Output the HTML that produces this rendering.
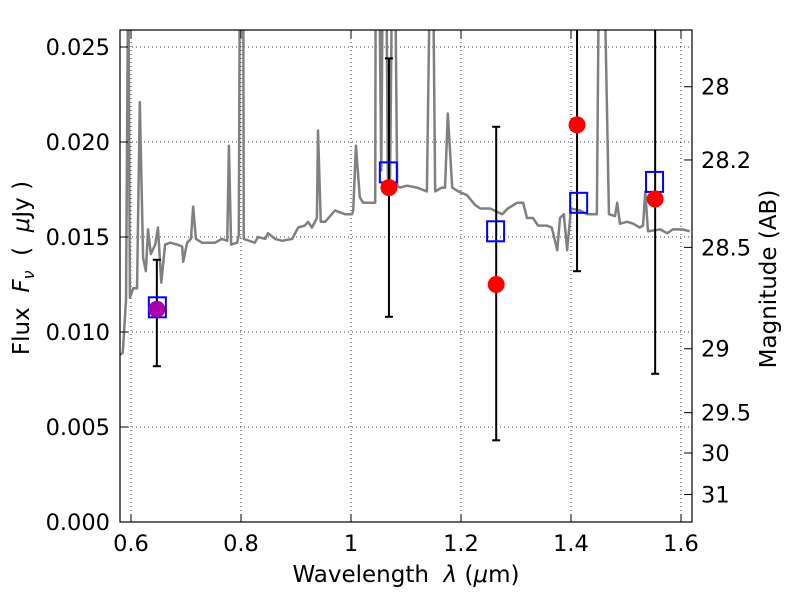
<!DOCTYPE html>
<html><head><meta charset="utf-8"><style>
html,body{margin:0;padding:0;background:#fff;width:800px;height:600px;overflow:hidden}
svg{font-family:"DejaVu Sans","Liberation Sans",sans-serif}
</style></head><body>
<svg id="chart" width="800" height="600" xmlns="http://www.w3.org/2000/svg">
<defs><clipPath id="clip"><rect x="120" y="30" width="572" height="492"/></clipPath></defs>
<rect x="0" y="0" width="800" height="600" fill="#fff"/>
<g id="grid"></g>
<g id="plot" clip-path="url(#clip)"></g>
<rect x="120" y="30" width="572" height="492" fill="none" stroke="#000" stroke-width="1.2"/>
<g id="axes"></g>
<text x="406" y="582" font-size="23" text-anchor="middle">Wavelength&#160;&#160;<tspan font-style="italic">λ</tspan> (<tspan font-style="italic">μ</tspan>m)</text>
<text transform="translate(29,268) rotate(-90)" font-size="23" text-anchor="middle">Flux&#160;&#160;<tspan font-style="italic">F</tspan><tspan font-size="16" dy="5" font-style="italic">ν</tspan><tspan dy="-5">&#160;&#160;(&#160;&#160;<tspan font-style="italic">μ</tspan>Jy )</tspan></text>
<text transform="translate(776,279) rotate(-90)" font-size="23" text-anchor="middle">Magnitude (AB)</text>
</svg>
<script>
const specLambda=[0.580,0.585,0.591,0.595,0.598,0.604,0.611,0.616,0.622,0.627,0.631,0.636,0.644,0.649,0.655,0.662,0.671,0.684,0.693,0.695,0.702,0.709,0.713,0.718,0.729,0.753,0.765,0.775,0.778,0.782,0.793,0.796,0.798,0.804,0.805,0.825,0.831,0.844,0.849,0.862,0.875,0.893,0.904,0.916,0.922,0.929,0.938,0.940,0.945,0.953,0.971,0.989,1.002,1.004,1.009,1.016,1.022,1.044,1.045,1.051,1.055,1.058,1.064,1.067,1.071,1.075,1.080,1.084,1.089,1.102,1.120,1.129,1.138,1.144,1.149,1.153,1.165,1.171,1.176,1.184,1.195,1.211,1.225,1.235,1.253,1.275,1.285,1.302,1.313,1.320,1.331,1.340,1.356,1.365,1.375,1.380,1.387,1.393,1.400,1.416,1.429,1.447,1.451,1.460,1.469,1.480,1.484,1.489,1.502,1.513,1.525,1.531,1.535,1.540,1.562,1.575,1.585,1.602,1.616];
const specFlux=[0.0088,0.0089,0.0117,0.0300,0.0118,0.0123,0.0123,0.0221,0.0139,0.0132,0.0154,0.0141,0.0146,0.0155,0.0126,0.0146,0.0147,0.0146,0.0145,0.0137,0.0147,0.0149,0.0166,0.0149,0.0147,0.0147,0.0149,0.0148,0.0198,0.0146,0.0147,0.0151,0.0300,0.0300,0.0149,0.0147,0.0150,0.0149,0.0152,0.0149,0.0148,0.0149,0.0155,0.0156,0.0158,0.0155,0.0160,0.0206,0.0158,0.0158,0.0164,0.0162,0.0162,0.0164,0.0198,0.0171,0.0168,0.0168,0.0300,0.0300,0.0185,0.0300,0.0300,0.0181,0.0180,0.0300,0.0300,0.0177,0.0176,0.0177,0.0176,0.0175,0.0174,0.0300,0.0300,0.0174,0.0176,0.0176,0.0215,0.0176,0.0174,0.0172,0.0167,0.0165,0.0165,0.0162,0.0165,0.0168,0.0168,0.0160,0.0160,0.0156,0.0156,0.0155,0.0143,0.0160,0.0162,0.0143,0.0165,0.0164,0.0162,0.0162,0.0300,0.0300,0.0162,0.0161,0.0168,0.0157,0.0158,0.0157,0.0155,0.0156,0.0174,0.0153,0.0154,0.0152,0.0154,0.0154,0.0153];
const obsLambda=[1.069,1.264,1.411,1.553];
const obsFlux=[0.0176,0.0125,0.0209,0.0170];
const obsLow=[0.0108,0.0043,0.0132,0.0078];
const obsHigh=[0.0244,0.0208,0.0300,0.0300];
const firstLambda=[0.647];const firstFlux=[0.0112];const firstLow=[0.0082];const firstHigh=[0.0138];
const modelLambda=[0.647,1.067,1.262,1.413,1.551];
const modelFlux=[0.0113,0.0184,0.0153,0.0168,0.0179];
const xTicks=[0.6,0.8,1.0,1.2,1.4,1.6];
const xTickLabels=["0.6","0.8","1","1.2","1.4","1.6"];
const yTicks=[0,0.005,0.010,0.015,0.020,0.025];
const yTickLabels=["0.000","0.005","0.010","0.015","0.020","0.025"];
const magTicks=[28,28.2,28.5,29,29.5,30,31];
const magTickLabels=["28","28.2","28.5","29","29.5","30","31"];

const NS="http://www.w3.org/2000/svg";
const X=l=>131+(l-0.6)*550;
const Y=f=>522-f*19000;
function mk(tag,attrs,parent){const e=document.createElementNS(NS,tag);for(const k in attrs)e.setAttribute(k,attrs[k]);parent.appendChild(e);return e;}
const grid=document.getElementById('grid'),plot=document.getElementById('plot'),axes=document.getElementById('axes');

xTicks.forEach((t,i)=>{const x=X(t);
 const g=mk('line',{x1:x,x2:x,y1:30,y2:522,stroke:'#000','stroke-width':0.8,'stroke-dasharray':'1,3'},grid);
 
 mk('line',{x1:x,x2:x,y1:522,y2:514,stroke:'#000'},axes);mk('line',{x1:x,x2:x,y1:30,y2:38,stroke:'#000'},axes);
 const tx=mk('text',{x:x,y:551,'font-size':22.5,'text-anchor':'middle'},axes);tx.textContent=xTickLabels[i];
 });
yTicks.forEach((t,i)=>{const y=Y(t);
 const g=mk('line',{x1:120,x2:692,y1:y,y2:y,stroke:'#000','stroke-width':0.8,'stroke-dasharray':'1,3'},grid);
 
 mk('line',{x1:120,x2:128,y1:y,y2:y,stroke:'#000'},axes);
 const tx=mk('text',{x:110,y:y+8,'font-size':22.5,'text-anchor':'end'},axes);tx.textContent=yTickLabels[i];
 });
magTicks.forEach((m,i)=>{const y=Y(Math.pow(10,(23.9-m)/2.5));
 mk('line',{x1:684,x2:692,y1:y,y2:y,stroke:'#000'},axes);
 const tx=mk('text',{x:701,y:y+8,'font-size':22.5},axes);tx.textContent=magTickLabels[i];
 });

const sp=mk('polyline',{points:specLambda.map((l,i)=>X(l)+','+Y(specFlux[i])).join(' '),fill:'none',stroke:'#808080','stroke-width':2.5,'stroke-linejoin':'round'},plot);


function errbar(l,lo,hi){const x=X(l);
 const e=mk('line',{x1:x,x2:x,y1:Y(hi),y2:Y(lo),stroke:'#000','stroke-width':2},plot);
 
 [lo,hi].forEach(v=>mk('line',{x1:x-4,x2:x+4,y1:Y(v),y2:Y(v),stroke:'#000','stroke-width':2},plot));}
firstLambda.forEach((l,i)=>errbar(l,firstLow[i],firstHigh[i]));
obsLambda.forEach((l,i)=>errbar(l,obsLow[i],obsHigh[i]));
modelLambda.forEach((l,i)=>{const r=mk('rect',{x:X(l)-8,y:Y(modelFlux[i])-10,width:17,height:20,fill:'none',stroke:'#0000ff','stroke-width':2},plot);
 });
firstLambda.forEach((l,i)=>{const c=mk('circle',{cx:X(l),cy:Y(firstFlux[i]),r:8.5,fill:'#aa00aa'},plot);
 });
obsLambda.forEach((l,i)=>{const c=mk('circle',{cx:X(l),cy:Y(obsFlux[i]),r:8.5,fill:'#ff0000'},plot);
 });
</script>
</body></html>
